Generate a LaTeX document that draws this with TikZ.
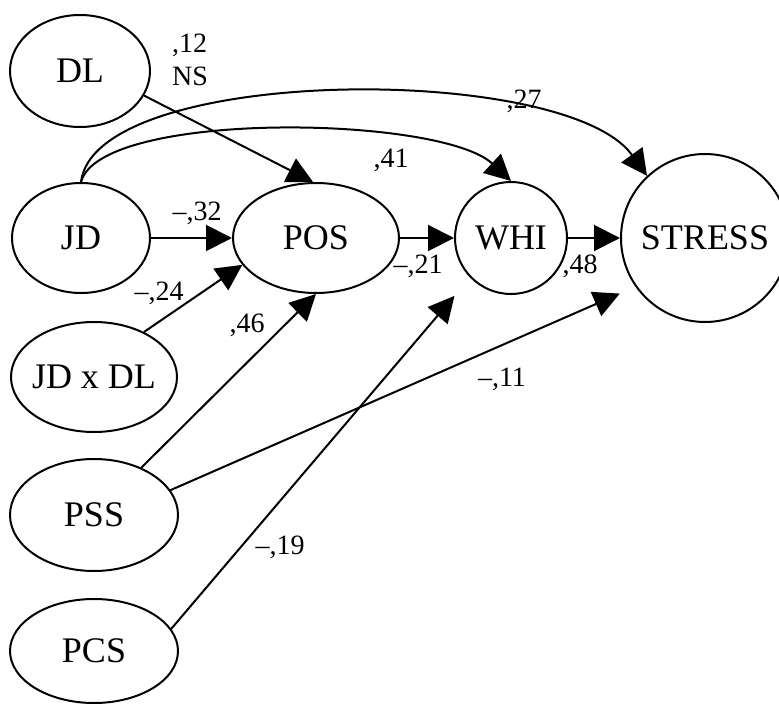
\documentclass[tikz,border=0pt]{standalone}
\usepackage{fontspec}
\setmainfont{Liberation Serif}
\usetikzlibrary{shapes.geometric,arrows.meta}

\tikzset{
    var/.style={draw, ellipse, line width=2pt, inner sep=-6pt, font=\fontsize{36}{40}\selectfont},
    fac/.style={draw, circle, line width=2pt, inner sep=0pt, font=\fontsize{36}{40}\selectfont},
    effect/.style={line width=2pt, -{Triangle[length=26pt,width=26pt]}},
    coef/.style={inner sep=0pt, font=\fontsize{28}{33}\selectfont}
}

\begin{document}
\begin{tikzpicture}[x=1pt,y=-1pt]
        \useasboundingbox (0,0) rectangle (779,706);
        % measured variables on the left
        \node[var, minimum width=140pt, minimum height=112pt] (dl) at (80,71) {DL};
        \node[var, minimum width=138pt, minimum height=110pt] (jd) at (81,238) {JD};
        \node[var, minimum width=166pt, minimum height=110pt] (jdxdl) at (94,377) {JD x DL};
        \node[var, minimum width=168pt, minimum height=112pt] (pss) at (94,515) {PSS};
        \node[var, minimum width=168pt, minimum height=104pt] (pcs) at (94,651) {PCS};
        % mediators and outcome
        \node[var, minimum width=166pt, minimum height=110pt] (pos) at (316,238) {POS};
        \node[fac, minimum size=112pt] (whi) at (511,238) {WHI};
        \node[fac, minimum size=168pt] (stress) at (705,238) {STRESS};

        \draw[effect] (dl.-21) -- (pos.93);
        \draw[effect] (jd.east) -- (pos.west);
        \draw[effect] (jdxdl.42) -- (pos.200);
        \draw[effect] (pss.45) -- (pos.south);
        \draw[effect, shorten >=17pt] (pss.18) -- (stress.215);
        \draw[effect, shorten >=24pt] (pcs.16) -- (whi.224);
        \draw[effect] (pos.east) -- (whi.west);
        \draw[effect] (whi.east) -- (stress.west);
        \draw[effect] (jd.north) .. controls (100,110) and (440,115) .. (whi.north);
        \draw[effect] (jd.north) .. controls (95,65) and (565,62) .. (stress.133);

        % path coefficients
        \node[coef, align=left] (c12) at (190,60) {,12\\NS};
        \node[coef] (c41) at (391,160) {,41};
        \node[coef] (c27) at (524,101) {,27};
        \node[coef] (c32) at (197,213) {--,32};
        \node[coef] (c24) at (159,293) {--,24};
        \node[coef] (c46) at (247,325) {,46};
        \node[coef] (c21) at (418,266) {--,21};
        \node[coef] (c48) at (580,266) {,48};
        \node[coef] (c11) at (502,379) {--,11};
        \node[coef] (c19) at (280,547) {--,19};
    \end{tikzpicture}
\end{document}
